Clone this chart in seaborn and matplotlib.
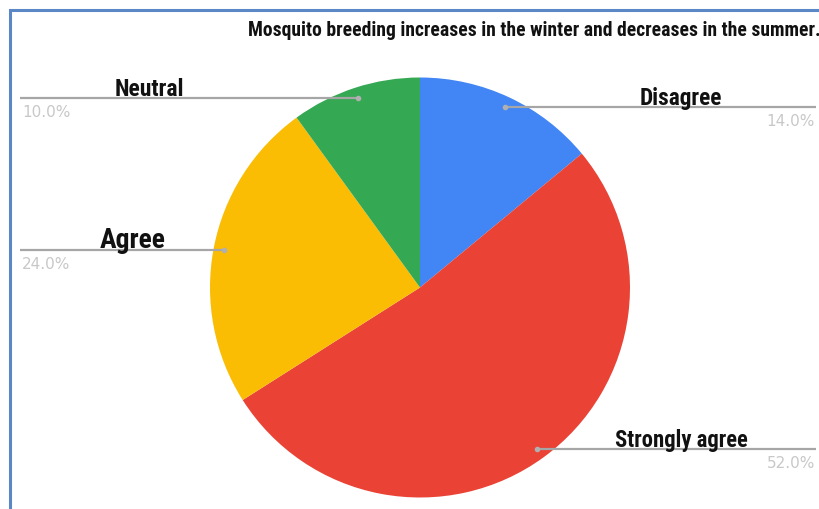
import matplotlib
matplotlib.use("Agg")
import matplotlib.pyplot as plt
from matplotlib import font_manager as fm
import numpy as np
import seaborn as sns

# Survey responses
categories = ["Disagree", "Strongly agree", "Agree", "Neutral"]
shares = [14.0, 52.0, 24.0, 10.0]
colors = ["#4285F4", "#EA4335", "#FBBC04", "#34A853"]
title = "Mosquito breeding increases in the winter and decreases in the summer."

sns.set_theme(style="white")
plt.rcParams["font.family"] = ["DejaVu Sans"]

# Pick a narrow bold face for the headings if one is installed
installed = {f.name: f for f in fm.fontManager.ttflist}
narrow = None
for name in ["Roboto Condensed", "Liberation Sans Narrow", "Open Sans Condensed",
             "DejaVu Sans Condensed"]:
    if name in installed:
        narrow = dict(family=name, stretch="normal")
        break
if narrow is None:
    narrow = dict(family="Liberation Sans", stretch="normal")

W, H = 820, 510
fig = plt.figure(figsize=(W / 100, H / 100), dpi=100)
ax = fig.add_axes([0, 0, 1, 1])

cx, cy, R = 420, H - 288.5, 210
wedges, _ = ax.pie(shares, colors=colors, startangle=90, counterclock=False,
                   center=(cx, cy), radius=R, frame=True,
                   wedgeprops=dict(linewidth=0))
ax.set_xlim(0, W)
ax.set_ylim(0, H)
ax.set_aspect("equal")
ax.axis("off")

# Leader lines: dot inside each wedge, horizontal rule to the page edge
label_style = {
    "Disagree": dict(side="right", size=16.8, xlabel=681),
    "Strongly agree": dict(side="right", size=16.3, xlabel=681),
    "Agree": dict(side="left", size=20, xlabel=133),
    "Neutral": dict(side="left", size=17, xlabel=149),
}
for w, name, val in zip(wedges, categories, shares):
    mid = np.deg2rad((w.theta1 + w.theta2) / 2)
    px = cx + 0.948 * R * np.cos(mid)
    py = cy + 0.948 * R * np.sin(mid)
    st = label_style[name]
    x_end = 816 if st["side"] == "right" else 20
    ax.plot([px, x_end], [py, py], color="#a6a6a6", lw=1.6,
            solid_capstyle="butt", zorder=3)
    ax.plot([px], [py], "o", ms=3, color="#b0b0b0", zorder=4)
    ax.text(st["xlabel"], py + 3, name, ha="center", va="baseline",
            fontsize=st["size"], fontweight="bold", color="#111111", zorder=5,
            family=narrow["family"], fontstretch=narrow["stretch"])
    pct = f"{val:.1f}%"
    if st["side"] == "right":
        ax.text(815, py - 6, pct, ha="right", va="top", fontsize=11,
                color="#c8c8c8", zorder=5)
    else:
        ax.text(22, py - 6, pct, ha="left", va="top", fontsize=11,
                color="#c8c8c8", zorder=5)

ax.text(248, H - 30, title, ha="left", va="center", fontsize=14.1,
        fontweight="bold", color="#111111",
        family=narrow["family"], fontstretch=narrow["stretch"])

# Blue frame along the top and left edges
ax.plot([10, 10, W + 5], [-5, H - 10.5, H - 10.5], color="#5B87C7", lw=2.2,
        solid_joinstyle="miter", zorder=6, clip_on=False)

fig.savefig("out.png", dpi=100, facecolor="white")
